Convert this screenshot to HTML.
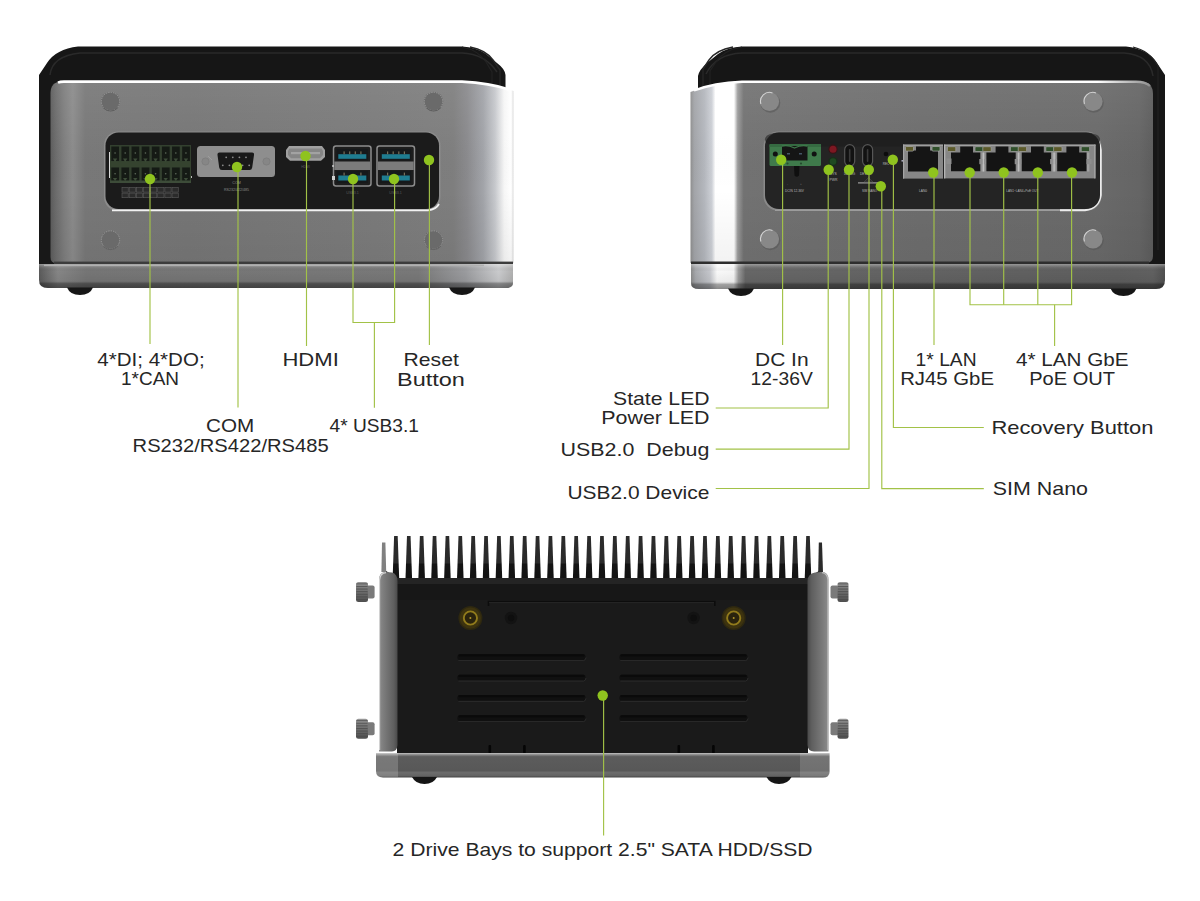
<!DOCTYPE html>
<html><head><meta charset="utf-8"><title>I/O</title>
<style>
html,body{margin:0;padding:0;background:#fff;}
body{width:1200px;height:901px;overflow:hidden;font-family:"Liberation Sans",sans-serif;}
svg{display:block;font-family:"Liberation Sans",sans-serif;}
</style></head><body>
<svg width="1200" height="901" viewBox="0 0 1200 901">
<rect width="1200" height="901" fill="#ffffff"/>

<defs>
  <linearGradient id="lbody" x1="0" y1="0" x2="1" y2="0">
    <stop offset="0" stop-color="#5c5c5c"/>
    <stop offset="0.012" stop-color="#6c6c6c"/>
    <stop offset="0.03" stop-color="#7e7e7e"/>
    <stop offset="0.048" stop-color="#8b8b8b"/>
    <stop offset="0.075" stop-color="#787878"/>
    <stop offset="0.3" stop-color="#767676"/>
    <stop offset="0.7" stop-color="#7b7b7b"/>
    <stop offset="0.87" stop-color="#7e7e7e"/>
    <stop offset="0.90" stop-color="#8a8a8d"/>
    <stop offset="0.935" stop-color="#a2a4a9"/>
    <stop offset="0.96" stop-color="#c6c8cc"/>
    <stop offset="0.98" stop-color="#f6f6f6"/>
    <stop offset="0.995" stop-color="#ffffff"/>
    <stop offset="1" stop-color="#dcdcdc"/>
  </linearGradient>
  <linearGradient id="vshade" x1="0" y1="0" x2="0" y2="1">
    <stop offset="0" stop-color="#ffffff" stop-opacity="0.07"/>
    <stop offset="0.3" stop-color="#ffffff" stop-opacity="0.02"/>
    <stop offset="0.6" stop-color="#000000" stop-opacity="0.0"/>
    <stop offset="1" stop-color="#000000" stop-opacity="0.05"/>
  </linearGradient>
  <linearGradient id="lbase" x1="0" y1="0" x2="1" y2="0">
    <stop offset="0" stop-color="#5a5a5a"/>
    <stop offset="0.04" stop-color="#858585"/>
    <stop offset="0.10" stop-color="#757575"/>
    <stop offset="0.80" stop-color="#787878"/>
    <stop offset="0.90" stop-color="#9a9b9e"/>
    <stop offset="0.97" stop-color="#c9cacc"/>
    <stop offset="1" stop-color="#b0b0b0"/>
  </linearGradient>
  <linearGradient id="rbody" x1="0" y1="0" x2="1" y2="0">
    <stop offset="0" stop-color="#8e8e8e"/>
    <stop offset="0.008" stop-color="#a2a4a8"/>
    <stop offset="0.03" stop-color="#b4b7bd"/>
    <stop offset="0.046" stop-color="#cdd0d6"/>
    <stop offset="0.054" stop-color="#ffffff"/>
    <stop offset="0.094" stop-color="#ffffff"/>
    <stop offset="0.102" stop-color="#9c9c9c"/>
    <stop offset="0.115" stop-color="#727272"/>
    <stop offset="0.5" stop-color="#6d6d6d"/>
    <stop offset="0.88" stop-color="#6a6a6a"/>
    <stop offset="0.97" stop-color="#656565"/>
    <stop offset="1" stop-color="#5c5c5c"/>
  </linearGradient>
  <linearGradient id="rbase" x1="0" y1="0" x2="1" y2="0">
    <stop offset="0" stop-color="#8a8a8a"/>
    <stop offset="0.01" stop-color="#a6a8ac"/>
    <stop offset="0.04" stop-color="#c4c6cb"/>
    <stop offset="0.055" stop-color="#f8f8f8"/>
    <stop offset="0.09" stop-color="#f4f4f4"/>
    <stop offset="0.10" stop-color="#9a9a9a"/>
    <stop offset="0.115" stop-color="#666666"/>
    <stop offset="0.9" stop-color="#5e5e5e"/>
    <stop offset="0.975" stop-color="#606060"/>
    <stop offset="1" stop-color="#505050"/>
  </linearGradient>
  <linearGradient id="baseshade" x1="0" y1="0" x2="0" y2="1">
    <stop offset="0" stop-color="#ffffff" stop-opacity="0.35"/>
    <stop offset="0.12" stop-color="#ffffff" stop-opacity="0.10"/>
    <stop offset="0.3" stop-color="#000" stop-opacity="0"/>
    <stop offset="0.72" stop-color="#000" stop-opacity="0.05"/>
    <stop offset="0.82" stop-color="#000" stop-opacity="0.35"/>
    <stop offset="1" stop-color="#000" stop-opacity="0.45"/>
  </linearGradient>
  <radialGradient id="screw" cx="0.45" cy="0.4" r="0.6">
    <stop offset="0" stop-color="#858585"/>
    <stop offset="0.8" stop-color="#7d7d7d"/>
    <stop offset="1" stop-color="#6a6a6a"/>
  </radialGradient>
  <radialGradient id="screwR" cx="0.5" cy="0.45" r="0.6">
    <stop offset="0" stop-color="#7a7a7a"/>
    <stop offset="0.8" stop-color="#767676"/>
    <stop offset="1" stop-color="#626262"/>
  </radialGradient>
  <linearGradient id="foot" x1="0" y1="0" x2="0" y2="1">
    <stop offset="0" stop-color="#3a3a3a"/>
    <stop offset="1" stop-color="#111"/>
  </linearGradient>
  <linearGradient id="brk" x1="0" y1="0" x2="1" y2="0">
    <stop offset="0" stop-color="#8c8c8c"/>
    <stop offset="0.25" stop-color="#7c7c7c"/>
    <stop offset="0.8" stop-color="#5f5f5f"/>
    <stop offset="1" stop-color="#4a4a4a"/>
  </linearGradient>
  <linearGradient id="brkR" x1="1" y1="0" x2="0" y2="0">
    <stop offset="0" stop-color="#8c8c8c"/>
    <stop offset="0.25" stop-color="#7c7c7c"/>
    <stop offset="0.8" stop-color="#5f5f5f"/>
    <stop offset="1" stop-color="#4a4a4a"/>
  </linearGradient>
  <linearGradient id="plate" x1="0" y1="0" x2="0" y2="1">
    <stop offset="0" stop-color="#c4c4c4"/>
    <stop offset="0.07" stop-color="#8a8a8a"/>
    <stop offset="0.15" stop-color="#5c5c5c"/>
    <stop offset="0.72" stop-color="#585858"/>
    <stop offset="0.80" stop-color="#6c6c6c"/>
    <stop offset="0.92" stop-color="#646464"/>
    <stop offset="1" stop-color="#444444"/>
  </linearGradient>
  <linearGradient id="fin" x1="0" y1="0" x2="0" y2="1">
    <stop offset="0" stop-color="#2b2b2b"/>
    <stop offset="0.62" stop-color="#2a2a2a"/>
    <stop offset="0.66" stop-color="#141414"/>
    <stop offset="1" stop-color="#121212"/>
  </linearGradient>
  <linearGradient id="thumb" x1="0" y1="0" x2="0" y2="1">
    <stop offset="0" stop-color="#9a9a9a"/>
    <stop offset="0.3" stop-color="#7a7a7a"/>
    <stop offset="1" stop-color="#4e4e4e"/>
  </linearGradient>
  <linearGradient id="hlfade" gradientUnits="userSpaceOnUse" x1="690" y1="0" x2="1153" y2="0">
    <stop offset="0" stop-color="#ffffff"/>
    <stop offset="0.88" stop-color="#ffffff"/>
    <stop offset="0.96" stop-color="#b0b0b0"/>
    <stop offset="1" stop-color="#8a8a8a"/>
  </linearGradient>
</defs>

<path d="M39 263 L39 75 L47 63 Q56 49 78 46.5 L462 46.5 Q476 47 486 54 L497 63 Q505 69 505.5 75 L505.5 92 L39 92 Z" fill="#161616"/>
<path d="M39 90 L56 90 L56 264.5 L39 264.5 Z" fill="#181818"/>
<path d="M50 75 Q52 56 80 53 L462 53 Q485 54 497 72" fill="none" stroke="#2a2a2a" stroke-width="1.5"/>
<path d="M470 47 Q486 50 493 60 L500 70 L500 90" fill="none" stroke="#262626" stroke-width="1.4"/>
<path d="M462 47 Q478 50 486 62 L492 72 L492 88" fill="none" stroke="#222222" stroke-width="1.2"/>
<path d="M56 263 Q50.5 263 50.5 257 L50.5 93 Q50.5 82 62 81 L462 81 Q490 82 513.5 91 L513.5 263 Z" fill="url(#lbody)"/>
<path d="M56 263 Q50.5 263 50.5 257 L50.5 93 Q50.5 82 62 81 L462 81 Q490 82 513.5 91 L513.5 263 Z" fill="url(#vshade)"/>
<path d="M58 82.6 Q60 81.6 64 81.6 L462 81.6 Q490 83 509 89.5" fill="none" stroke="#ffffff" stroke-width="2.6"/>
<rect x="54" y="261.6" width="459" height="2.6" fill="#3c3c3c"/>
<path d="M39 264 L513 264 L513 283 Q513 288 506 288 L48 288 Q39 288 39 280 Z" fill="url(#lbase)"/>
<path d="M39 264 L513 264 L513 283 Q513 288 506 288 L48 288 Q39 288 39 280 Z" fill="url(#baseshade)"/>
<rect x="44" y="264.6" width="440" height="1.5" fill="#b0b0b0"/>
<path d="M67 287.5 L93 287.5 Q90 295 80 295 Q70 295 67 287.5 Z" fill="#161616"/>
<path d="M449 287.5 L475 287.5 Q472 295 462 295 Q452 295 449 287.5 Z" fill="#161616"/>
<circle cx="110.5" cy="101.5" r="9.8" fill="#6a6a6a"/>
<circle cx="110.5" cy="101.5" r="9.2" fill="none" stroke="#a4a4a4" stroke-width="1" stroke-dasharray="1.4 1.0" opacity="0.8"/>
<path d="M103.5 107.9 A9.4 9.4 0 0 0 117.5 107.9" fill="none" stroke="#5e5e5e" stroke-width="1"/>
<circle cx="433.5" cy="101.5" r="9.8" fill="#6a6a6a"/>
<circle cx="433.5" cy="101.5" r="9.2" fill="none" stroke="#a4a4a4" stroke-width="1" stroke-dasharray="1.4 1.0" opacity="0.8"/>
<path d="M426.5 107.9 A9.4 9.4 0 0 0 440.5 107.9" fill="none" stroke="#5e5e5e" stroke-width="1"/>
<circle cx="110.5" cy="240" r="9.8" fill="#6a6a6a"/>
<circle cx="110.5" cy="240" r="9.2" fill="none" stroke="#a4a4a4" stroke-width="1" stroke-dasharray="1.4 1.0" opacity="0.8"/>
<path d="M103.5 246.4 A9.4 9.4 0 0 0 117.5 246.4" fill="none" stroke="#5e5e5e" stroke-width="1"/>
<circle cx="433.5" cy="240" r="9.8" fill="#6a6a6a"/>
<circle cx="433.5" cy="240" r="9.2" fill="none" stroke="#a4a4a4" stroke-width="1" stroke-dasharray="1.4 1.0" opacity="0.8"/>
<path d="M426.5 246.4 A9.4 9.4 0 0 0 440.5 246.4" fill="none" stroke="#5e5e5e" stroke-width="1"/>
<rect x="104" y="131.5" width="336.5" height="79.5" rx="14" fill="#8c8c8c"/>
<path d="M112 210.3 L428 210.3 Q436 209.6 439 204" fill="none" stroke="#f2f2f2" stroke-width="1.8"/>
<rect x="105.5" y="132.5" width="333.5" height="76.5" rx="13" fill="#1b1b1b"/>
<rect x="109" y="152" width="2" height="26" fill="#d8d8d8"/>
<rect x="189.5" y="176" width="2.5" height="2" fill="#bbbbbb"/>
<rect x="110" y="145" width="81" height="38" fill="#33402f"/>
<rect x="111.30" y="146.5" width="7.72" height="14.5" fill="#151a15"/>
<circle cx="115.06" cy="153.03" r="0.8" fill="#5f6b5c"/>
<rect x="121.42" y="146.5" width="7.72" height="14.5" fill="#151a15"/>
<circle cx="125.19" cy="153.03" r="0.8" fill="#5f6b5c"/>
<rect x="131.55" y="146.5" width="7.72" height="14.5" fill="#151a15"/>
<circle cx="135.31" cy="153.03" r="0.8" fill="#5f6b5c"/>
<rect x="141.68" y="146.5" width="7.72" height="14.5" fill="#151a15"/>
<circle cx="145.44" cy="153.03" r="0.8" fill="#5f6b5c"/>
<rect x="151.80" y="146.5" width="7.72" height="14.5" fill="#151a15"/>
<circle cx="155.56" cy="153.03" r="0.8" fill="#5f6b5c"/>
<rect x="161.93" y="146.5" width="7.72" height="14.5" fill="#151a15"/>
<circle cx="165.69" cy="153.03" r="0.8" fill="#5f6b5c"/>
<rect x="172.05" y="146.5" width="7.72" height="14.5" fill="#151a15"/>
<circle cx="175.81" cy="153.03" r="0.8" fill="#5f6b5c"/>
<rect x="182.18" y="146.5" width="7.72" height="14.5" fill="#151a15"/>
<circle cx="185.94" cy="153.03" r="0.8" fill="#5f6b5c"/>
<rect x="111.30" y="167.5" width="7.72" height="14" fill="#151a15"/>
<circle cx="115.06" cy="173.80" r="0.8" fill="#5f6b5c"/>
<rect x="121.42" y="167.5" width="7.72" height="14" fill="#151a15"/>
<circle cx="125.19" cy="173.80" r="0.8" fill="#5f6b5c"/>
<rect x="131.55" y="167.5" width="7.72" height="14" fill="#151a15"/>
<circle cx="135.31" cy="173.80" r="0.8" fill="#5f6b5c"/>
<rect x="141.68" y="167.5" width="7.72" height="14" fill="#151a15"/>
<circle cx="145.44" cy="173.80" r="0.8" fill="#5f6b5c"/>
<rect x="151.80" y="167.5" width="7.72" height="14" fill="#151a15"/>
<circle cx="155.56" cy="173.80" r="0.8" fill="#5f6b5c"/>
<rect x="161.93" y="167.5" width="7.72" height="14" fill="#151a15"/>
<circle cx="165.69" cy="173.80" r="0.8" fill="#5f6b5c"/>
<rect x="172.05" y="167.5" width="7.72" height="14" fill="#151a15"/>
<circle cx="175.81" cy="173.80" r="0.8" fill="#5f6b5c"/>
<rect x="182.18" y="167.5" width="7.72" height="14" fill="#151a15"/>
<circle cx="185.94" cy="173.80" r="0.8" fill="#5f6b5c"/>
<rect x="110" y="161.5" width="81" height="5.5" fill="#35432f"/>
<rect x="110" y="180.5" width="81" height="2.5" fill="#3d4c39"/>
<path d="M112.86 158.5 L117.26 158.5 L115.06 162 Z" fill="#3d4c39"/>
<path d="M112.86 178 L117.26 178 L115.06 181 Z" fill="#3d4c39"/>
<path d="M122.99 158.5 L127.39 158.5 L125.19 162 Z" fill="#3d4c39"/>
<path d="M122.99 178 L127.39 178 L125.19 181 Z" fill="#3d4c39"/>
<path d="M133.11 158.5 L137.51 158.5 L135.31 162 Z" fill="#3d4c39"/>
<path d="M133.11 178 L137.51 178 L135.31 181 Z" fill="#3d4c39"/>
<path d="M143.24 158.5 L147.64 158.5 L145.44 162 Z" fill="#3d4c39"/>
<path d="M143.24 178 L147.64 178 L145.44 181 Z" fill="#3d4c39"/>
<path d="M153.36 158.5 L157.76 158.5 L155.56 162 Z" fill="#3d4c39"/>
<path d="M153.36 178 L157.76 178 L155.56 181 Z" fill="#3d4c39"/>
<path d="M163.49 158.5 L167.89 158.5 L165.69 162 Z" fill="#3d4c39"/>
<path d="M163.49 178 L167.89 178 L165.69 181 Z" fill="#3d4c39"/>
<path d="M173.61 158.5 L178.01 158.5 L175.81 162 Z" fill="#3d4c39"/>
<path d="M173.61 178 L178.01 178 L175.81 181 Z" fill="#3d4c39"/>
<path d="M183.74 158.5 L188.14 158.5 L185.94 162 Z" fill="#3d4c39"/>
<path d="M183.74 178 L188.14 178 L185.94 181 Z" fill="#3d4c39"/>
<rect x="122.00" y="187.50" width="6.2" height="4.6" fill="#2b2b2b" stroke="#5c5c5c" stroke-width="0.6"/>
<rect x="129.15" y="187.50" width="6.2" height="4.6" fill="#2b2b2b" stroke="#5c5c5c" stroke-width="0.6"/>
<rect x="136.30" y="187.50" width="6.2" height="4.6" fill="#2b2b2b" stroke="#5c5c5c" stroke-width="0.6"/>
<rect x="143.45" y="187.50" width="6.2" height="4.6" fill="#2b2b2b" stroke="#5c5c5c" stroke-width="0.6"/>
<rect x="150.60" y="187.50" width="6.2" height="4.6" fill="#2b2b2b" stroke="#5c5c5c" stroke-width="0.6"/>
<rect x="157.75" y="187.50" width="6.2" height="4.6" fill="#2b2b2b" stroke="#5c5c5c" stroke-width="0.6"/>
<rect x="164.90" y="187.50" width="6.2" height="4.6" fill="#2b2b2b" stroke="#5c5c5c" stroke-width="0.6"/>
<rect x="172.05" y="187.50" width="6.2" height="4.6" fill="#2b2b2b" stroke="#5c5c5c" stroke-width="0.6"/>
<rect x="122.00" y="193.10" width="6.2" height="4.6" fill="#2b2b2b" stroke="#5c5c5c" stroke-width="0.6"/>
<rect x="129.15" y="193.10" width="6.2" height="4.6" fill="#2b2b2b" stroke="#5c5c5c" stroke-width="0.6"/>
<rect x="136.30" y="193.10" width="6.2" height="4.6" fill="#2b2b2b" stroke="#5c5c5c" stroke-width="0.6"/>
<rect x="143.45" y="193.10" width="6.2" height="4.6" fill="#2b2b2b" stroke="#5c5c5c" stroke-width="0.6"/>
<rect x="150.60" y="193.10" width="6.2" height="4.6" fill="#2b2b2b" stroke="#5c5c5c" stroke-width="0.6"/>
<rect x="157.75" y="193.10" width="6.2" height="4.6" fill="#2b2b2b" stroke="#5c5c5c" stroke-width="0.6"/>
<rect x="164.90" y="193.10" width="6.2" height="4.6" fill="#2b2b2b" stroke="#5c5c5c" stroke-width="0.6"/>
<rect x="172.05" y="193.10" width="6.2" height="4.6" fill="#2b2b2b" stroke="#5c5c5c" stroke-width="0.6"/>
<rect x="197" y="146" width="78" height="31" rx="3.5" fill="#8e8e8e"/>
<circle cx="205.5" cy="161.5" r="3.6" fill="#868686" stroke="#7c7c7c" stroke-width="0.8"/>
<circle cx="266.5" cy="161.5" r="3.6" fill="#868686" stroke="#7c7c7c" stroke-width="0.8"/>
<line x1="208" y1="156" x2="212" y2="160" stroke="#a2a2a2" stroke-width="0.8"/>
<path d="M219.5 152.5 L252 152.5 Q254.5 152.5 254 155 L252.2 167.5 Q251.8 170 249.5 170 L222 170 Q219.6 170 219.2 167.5 L217.5 155 Q217.2 152.5 219.5 152.5 Z" fill="#191919"/>
<circle cx="226.2" cy="157.3" r="0.9" fill="#8c8c8c"/>
<circle cx="232.8" cy="157.3" r="0.9" fill="#8c8c8c"/>
<circle cx="239.4" cy="157.3" r="0.9" fill="#8c8c8c"/>
<circle cx="246.0" cy="157.3" r="0.9" fill="#8c8c8c"/>
<circle cx="222.8" cy="165.3" r="0.9" fill="#8c8c8c"/>
<circle cx="229.4" cy="165.3" r="0.9" fill="#8c8c8c"/>
<circle cx="236.0" cy="165.3" r="0.9" fill="#8c8c8c"/>
<circle cx="242.6" cy="165.3" r="0.9" fill="#8c8c8c"/>
<circle cx="249.2" cy="165.3" r="0.9" fill="#8c8c8c"/>
<text x="236.5" y="184.2" font-size="3.6" fill="#8c8c8c" text-anchor="middle">COM</text>
<text x="236.5" y="190.5" font-size="3.6" fill="#8c8c8c" text-anchor="middle">RS232/422/485</text>
<path d="M289 146 L322 146 L325 150 L325 157 L321 160.8 L290 160.8 L286 157 L286 150 Z" fill="#a0a0a0"/>
<path d="M289.5 148.5 L321.5 148.5 L323 151 L323 155 L320 158.3 L291 158.3 L288 155 L288 151 Z" fill="#858585"/>
<rect x="291" y="152" width="29" height="2.2" fill="#a2a2a2"/>
<text x="305.5" y="167.5" font-size="3.4" fill="#5a5a5a" text-anchor="middle">HDMI</text>
<rect x="333.5" y="146" width="37.5" height="40" rx="2.5" fill="#1d1d1d" stroke="#8d8d8d" stroke-width="1.5"/>
<rect x="334.3" y="161.5" width="35.9" height="8.5" fill="#7b7b7b"/>
<rect x="336.7" y="149" width="31" height="11.5" fill="#16191b"/>
<rect x="338.3" y="154.2" width="28" height="4.6" fill="#1f7d91"/>
<rect x="343.5" y="151.4" width="1.2" height="2.8" fill="#77705a"/>
<rect x="349.1" y="151.4" width="1.2" height="2.8" fill="#77705a"/>
<rect x="354.7" y="151.4" width="1.2" height="2.8" fill="#77705a"/>
<rect x="360.3" y="151.4" width="1.2" height="2.8" fill="#77705a"/>
<rect x="336.7" y="171" width="31" height="12" fill="#16191b"/>
<rect x="338.3" y="175.5" width="28" height="5" fill="#1f7d91"/>
<rect x="343.5" y="172.6" width="1.2" height="2.9" fill="#77705a"/>
<rect x="360.3" y="172.6" width="1.2" height="2.9" fill="#77705a"/>
<rect x="377" y="146" width="37.5" height="40" rx="2.5" fill="#1d1d1d" stroke="#8d8d8d" stroke-width="1.5"/>
<rect x="377.8" y="161.5" width="35.9" height="8.5" fill="#7b7b7b"/>
<rect x="380.2" y="149" width="31" height="11.5" fill="#16191b"/>
<rect x="381.8" y="154.2" width="28" height="4.6" fill="#1f7d91"/>
<rect x="387.0" y="151.4" width="1.2" height="2.8" fill="#77705a"/>
<rect x="392.6" y="151.4" width="1.2" height="2.8" fill="#77705a"/>
<rect x="398.2" y="151.4" width="1.2" height="2.8" fill="#77705a"/>
<rect x="403.8" y="151.4" width="1.2" height="2.8" fill="#77705a"/>
<rect x="380.2" y="171" width="31" height="12" fill="#16191b"/>
<rect x="381.8" y="175.5" width="28" height="5" fill="#1f7d91"/>
<rect x="387.0" y="172.6" width="1.2" height="2.9" fill="#77705a"/>
<rect x="403.8" y="172.6" width="1.2" height="2.9" fill="#77705a"/>
<rect x="332" y="176" width="3" height="4" fill="#cfcfcf"/>
<rect x="332.3" y="165" width="1.4" height="2" fill="#cfcfcf"/>
<text x="352.5" y="193.6" font-size="3.6" fill="#5c5c5c" text-anchor="middle">USB3.1</text>
<text x="395.5" y="193.6" font-size="3.6" fill="#5c5c5c" text-anchor="middle">USB3.1</text>
<path d="M150 179 L150 344" fill="none" stroke="#a2c247" stroke-width="1.15"/>
<path d="M238 167 L238 407.5" fill="none" stroke="#a2c247" stroke-width="1.15"/>
<path d="M306.5 156 L306.5 346" fill="none" stroke="#a2c247" stroke-width="1.15"/>
<path d="M353 179 L353 322.5 L394.6 322.5 L394.6 179" fill="none" stroke="#a2c247" stroke-width="1.15"/>
<path d="M374.4 322.5 L374.4 407.7" fill="none" stroke="#a2c247" stroke-width="1.15"/>
<path d="M429.4 160 L429.4 345" fill="none" stroke="#a2c247" stroke-width="1.15"/>
<circle cx="150" cy="179" r="5.2" fill="#8fc31f"/>
<circle cx="237" cy="167" r="5.2" fill="#8fc31f"/>
<circle cx="305.5" cy="156" r="5.2" fill="#8fc31f"/>
<circle cx="353" cy="179" r="5.2" fill="#8fc31f"/>
<circle cx="394" cy="179" r="5.2" fill="#8fc31f"/>
<circle cx="429" cy="160" r="5.2" fill="#8fc31f"/>
<text x="97.3" y="366" font-size="18.6" textLength="107.3" lengthAdjust="spacingAndGlyphs" fill="#262626">4*DI; 4*DO;</text>
<text x="121" y="385.4" font-size="18.6" textLength="58" lengthAdjust="spacingAndGlyphs" fill="#262626">1*CAN</text>
<text x="206" y="432" font-size="18.6" textLength="48.19999999999999" lengthAdjust="spacingAndGlyphs" fill="#262626">COM</text>
<text x="132.6" y="451.6" font-size="18.6" textLength="196.00000000000003" lengthAdjust="spacingAndGlyphs" fill="#262626">RS232/RS422/RS485</text>
<text x="282.4" y="366" font-size="18.6" textLength="56.400000000000034" lengthAdjust="spacingAndGlyphs" fill="#262626">HDMI</text>
<text x="329.6" y="432" font-size="18.6" textLength="89.39999999999998" lengthAdjust="spacingAndGlyphs" fill="#262626">4* USB3.1</text>
<text x="403.6" y="366" font-size="18.6" textLength="55.19999999999999" lengthAdjust="spacingAndGlyphs" fill="#262626">Reset</text>
<text x="397" y="385.6" font-size="18.6" textLength="67.80000000000001" lengthAdjust="spacingAndGlyphs" fill="#262626">Button</text>
<path d="M698 100 L698 76 Q699 70 707 63 L718 54 Q728 47 742 46.5 L1126 46.5 Q1148 49 1157 63 L1165 75 L1165 263 L1150 263 L1150 100 Z" fill="#161616"/>
<path d="M706 74 Q716 54 742 53 L1124 53 Q1150 55 1153 76" fill="none" stroke="#2a2a2a" stroke-width="1.5"/>
<rect x="1140" y="250" width="25" height="14.5" fill="#161616"/>
<path d="M733 47 Q716 50 709 60 L703 69 L703 92" fill="none" stroke="#262626" stroke-width="1.4"/>
<path d="M742 47 Q724 50 716 62 L710 71 L710 90" fill="none" stroke="#222222" stroke-width="1.2"/>
<path d="M1133 47 Q1150 51 1158 66 L1158 250" fill="none" stroke="#222222" stroke-width="1.2"/>
<path d="M690.5 263 L690.5 92 Q712 83 742 81 L1140 81 Q1153 82 1153 94 L1153 256 Q1153 263 1146 263 Z" fill="url(#rbody)"/>
<path d="M690.5 263 L690.5 92 Q712 83 742 81 L1140 81 Q1153 82 1153 94 L1153 256 Q1153 263 1146 263 Z" fill="url(#vshade)"/>
<path d="M694 90.5 Q714 83 742 81.8 L1136 81.8 Q1146 82 1150 86" fill="none" stroke="url(#hlfade)" stroke-width="2.4"/>
<rect x="691" y="261.5" width="458" height="2.6" fill="#2e2e2e"/>
<path d="M691 264 L1165 264 L1165 280 Q1165 289 1156 289 L699 289 Q691 289 691 283 Z" fill="url(#rbase)"/>
<path d="M691 264 L1165 264 L1165 280 Q1165 289 1156 289 L699 289 Q691 289 691 283 Z" fill="url(#baseshade)"/>
<path d="M728 288.5 L754 288.5 Q751 296 741 296 Q731 296 728 288.5 Z" fill="#161616"/>
<path d="M1110.5 288.5 L1136.5 288.5 Q1133.5 296 1123.5 296 Q1113.5 296 1110.5 288.5 Z" fill="#161616"/>
<circle cx="770.3" cy="102.7" r="10" fill="#555" opacity="0.55"/>
<circle cx="769.5" cy="101.5" r="9.6" fill="#888888"/>
<path d="M760.9 104.0 A9 9 0 0 1 772.5 92.9" fill="none" stroke="#e0e0e0" stroke-width="1.1" opacity="0.85"/>
<circle cx="1093.8" cy="102.7" r="10" fill="#555" opacity="0.55"/>
<circle cx="1093" cy="101.5" r="9.6" fill="#888888"/>
<path d="M1084.4 104.0 A9 9 0 0 1 1096 92.9" fill="none" stroke="#e0e0e0" stroke-width="1.1" opacity="0.85"/>
<circle cx="770.3" cy="240.2" r="10" fill="#555" opacity="0.55"/>
<circle cx="769.5" cy="239" r="9.6" fill="#888888"/>
<path d="M760.9 241.5 A9 9 0 0 1 772.5 230.4" fill="none" stroke="#e0e0e0" stroke-width="1.1" opacity="0.85"/>
<circle cx="1093.8" cy="240.2" r="10" fill="#555" opacity="0.55"/>
<circle cx="1093" cy="239" r="9.6" fill="#888888"/>
<path d="M1084.4 241.5 A9 9 0 0 1 1096 230.4" fill="none" stroke="#e0e0e0" stroke-width="1.1" opacity="0.85"/>
<rect x="763.5" y="131.5" width="338" height="79.5" rx="15" fill="#8a8a8a"/>
<path d="M775 210.2 L1060 210.2" fill="none" stroke="#9c9c9c" stroke-width="1.6"/>
<path d="M1060 210.2 L1085 210.2 Q1099 208 1100.8 195 L1100.8 150 Q1100 140 1092 135" fill="none" stroke="#ececec" stroke-width="1.9"/>
<rect x="765" y="132.5" width="335" height="76.5" rx="14" fill="#242424"/>
<rect x="765" y="132.5" width="335" height="14" rx="14" fill="#1c1c1c" opacity="0.6"/>
<rect x="769.5" y="144" width="51.5" height="22" rx="1.5" fill="#3f7a4b"/>
<rect x="769.5" y="144" width="51.5" height="3" fill="#356a41"/>
<path d="M782 146 L807.5 146 L807.5 160.5 L782 160.5 Z" fill="#151515"/>
<path d="M782 146 Q788 144.5 794.5 148 Q801 144.5 807.5 146" fill="none" stroke="#3f7a4b" stroke-width="1.3"/>
<circle cx="775.3" cy="154" r="2.5" fill="#111"/>
<circle cx="814.2" cy="154" r="2.5" fill="#111"/>
<rect x="787" y="153" width="3" height="1.5" fill="#456"/>
<rect x="799" y="153" width="3" height="1.5" fill="#456"/>
<circle cx="787.5" cy="163.5" r="1.1" fill="#264d2f"/><circle cx="801" cy="163.5" r="1.1" fill="#264d2f"/>
<path d="M794 166 L799.5 166 L799 175.5 Q796.7 178 794.5 175.5 Z" fill="#0f0f0f"/>
<text x="794.5" y="191.5" font-size="3.6" fill="#b8b8b8" text-anchor="middle" textLength="19" lengthAdjust="spacingAndGlyphs">DCIN 12-36V</text>
<text x="787.5" y="184.7" font-size="3" fill="#777" text-anchor="middle">-</text><text x="801" y="184.7" font-size="3" fill="#777" text-anchor="middle">+</text>
<circle cx="833" cy="149.2" r="4.6" fill="#3a1216"/><circle cx="833" cy="149.2" r="3.5" fill="#7d1822"/>
<circle cx="833" cy="161.5" r="4.6" fill="#17301a"/><circle cx="833" cy="161.5" r="3.2" fill="#1f4a22"/>
<text x="833.5" y="175" font-size="3.4" fill="#b8b8b8" text-anchor="middle">SYS</text>
<text x="833.5" y="180.8" font-size="3.4" fill="#b8b8b8" text-anchor="middle">PWR</text>
<rect x="844.7" y="144.6" width="10" height="21.6" rx="5" fill="#121212" stroke="#565656" stroke-width="1.2"/>
<rect x="848.9000000000001" y="149" width="1.6" height="13" rx="0.8" fill="#3a3a3a"/>
<rect x="862.6" y="144.6" width="10" height="21.6" rx="5" fill="#121212" stroke="#565656" stroke-width="1.2"/>
<rect x="866.8000000000001" y="149" width="1.6" height="13" rx="0.8" fill="#3a3a3a"/>
<text x="849.7" y="175" font-size="3.2" fill="#b8b8b8" text-anchor="middle">DEBUG</text>
<text x="866" y="175" font-size="3.2" fill="#b8b8b8" text-anchor="middle">DEVICE</text>
<rect x="858" y="182" width="22" height="1.7" fill="#7a7a7a"/>
<path d="M864 182 L868.5 177.5 L873 182 Z" fill="#2c2c2c" stroke="#555" stroke-width="0.5"/>
<text x="869.5" y="191.5" font-size="3.6" fill="#b8b8b8" text-anchor="middle" textLength="15" lengthAdjust="spacingAndGlyphs">SIM NANO</text>
<circle cx="886" cy="154" r="2.3" fill="#0c0c0c"/>
<text x="886" y="165" font-size="3.2" fill="#b8b8b8" text-anchor="middle">REC</text>
<rect x="901.5" y="160" width="1.6" height="1.6" fill="#aab"/>
<rect x="903" y="144.6" width="40" height="34" fill="#878787"/>
<rect x="903" y="144.6" width="40" height="1.2" fill="#a5a5a5"/>
<rect x="903" y="144.6" width="1.2" height="34" fill="#a5a5a5"/>
<path d="M908 150.5 L916 150.5 L916 146.6 L930 146.6 L930 150.5 L938 150.5 L938 171.6 L908 171.6 Z" fill="#151515"/>
<rect x="905.5" y="146.5" width="8" height="4.6" rx="1" fill="#5c5a2a" stroke="#a9a9a9" stroke-width="0.7"/>
<rect x="932" y="146.5" width="8" height="4.6" rx="1" fill="#2f4f2a" stroke="#a9a9a9" stroke-width="0.7"/>
<text x="923" y="191.5" font-size="3.6" fill="#b8b8b8" text-anchor="middle" textLength="8" lengthAdjust="spacingAndGlyphs">LAN0</text>
<rect x="944" y="144.6" width="151.5" height="33.8" fill="#868686"/>
<rect x="944" y="144.6" width="151.5" height="1.2" fill="#a9a9a9"/>
<rect x="944" y="144.6" width="1.3" height="33.8" fill="#b5b5b5"/>
<rect x="1094" y="144.6" width="1.5" height="33.8" fill="#9f9f9f"/>
<path d="M951.0 152.6 L960.2 152.6 L960.2 146.4 L973.0 146.4 L973.0 152.6 L980.3 152.6 L980.3 171.3 L951.0 171.3 Z" fill="#141414"/>
<rect x="947.4" y="146.7" width="8.4" height="4.8" rx="1" fill="#5c5a2a" stroke="#a4a4a4" stroke-width="0.7"/>
<rect x="975.0" y="146.7" width="8.4" height="4.8" rx="1" fill="#2f4f2a" stroke="#a4a4a4" stroke-width="0.7"/>
<rect x="981.5" y="152.5" width="3.6" height="19" fill="#9a9a9a"/>
<rect x="979.3" y="159" width="8" height="5.2" fill="#8e8e8e"/>
<rect x="982.8" y="152.5" width="1" height="19" fill="#c8c8c8"/>
<path d="M986.4 152.6 L995.6 152.6 L995.6 146.4 L1008.4 146.4 L1008.4 152.6 L1015.7 152.6 L1015.7 171.3 L986.4 171.3 Z" fill="#141414"/>
<rect x="982.8" y="146.7" width="8.4" height="4.8" rx="1" fill="#5c5a2a" stroke="#a4a4a4" stroke-width="0.7"/>
<rect x="1010.4" y="146.7" width="8.4" height="4.8" rx="1" fill="#2f4f2a" stroke="#a4a4a4" stroke-width="0.7"/>
<rect x="1016.9" y="152.5" width="3.6" height="19" fill="#9a9a9a"/>
<rect x="1014.7" y="159" width="8" height="5.2" fill="#8e8e8e"/>
<rect x="1018.2" y="152.5" width="1" height="19" fill="#c8c8c8"/>
<path d="M1021.8 152.6 L1031.0 152.6 L1031.0 146.4 L1043.8 146.4 L1043.8 152.6 L1051.1 152.6 L1051.1 171.3 L1021.8 171.3 Z" fill="#141414"/>
<rect x="1018.2" y="146.7" width="8.4" height="4.8" rx="1" fill="#5c5a2a" stroke="#a4a4a4" stroke-width="0.7"/>
<rect x="1045.8" y="146.7" width="8.4" height="4.8" rx="1" fill="#2f4f2a" stroke="#a4a4a4" stroke-width="0.7"/>
<rect x="1052.3" y="152.5" width="3.6" height="19" fill="#9a9a9a"/>
<rect x="1050.1" y="159" width="8" height="5.2" fill="#8e8e8e"/>
<rect x="1053.6" y="152.5" width="1" height="19" fill="#c8c8c8"/>
<path d="M1057.2 152.6 L1066.4 152.6 L1066.4 146.4 L1079.2 146.4 L1079.2 152.6 L1086.5 152.6 L1086.5 171.3 L1057.2 171.3 Z" fill="#141414"/>
<rect x="1053.6" y="146.7" width="8.4" height="4.8" rx="1" fill="#5c5a2a" stroke="#a4a4a4" stroke-width="0.7"/>
<rect x="1081.2" y="146.7" width="8.4" height="4.8" rx="1" fill="#2f4f2a" stroke="#a4a4a4" stroke-width="0.7"/>
<rect x="1087.0" y="152.5" width="2.4" height="19" fill="#a0a0a0"/>
<rect x="1086.5" y="159" width="5" height="5.2" fill="#8e8e8e"/>
<rect x="946.5" y="158.5" width="5" height="5.5" fill="#8e8e8e"/>
<text x="1022.3" y="191.5" font-size="3.6" fill="#b8b8b8" text-anchor="middle" textLength="32" lengthAdjust="spacingAndGlyphs">LAN1~LAN4+PoE OUT</text>
<path d="M782.6 160 L782.6 345" fill="none" stroke="#a2c247" stroke-width="1.15"/>
<path d="M828.2 170 L828.2 408 L715.7 408" fill="none" stroke="#a2c247" stroke-width="1.15"/>
<path d="M849 170 L849 449.1 L715.7 449.1" fill="none" stroke="#a2c247" stroke-width="1.15"/>
<path d="M869 170 L869 488.5 L715.7 488.5" fill="none" stroke="#a2c247" stroke-width="1.15"/>
<path d="M881.8 186 L881.8 488.6 L983.8 488.6" fill="none" stroke="#a2c247" stroke-width="1.15"/>
<path d="M893.4 160 L893.4 427.5 L983.8 427.5" fill="none" stroke="#a2c247" stroke-width="1.15"/>
<path d="M934 172.5 L934 345" fill="none" stroke="#a2c247" stroke-width="1.15"/>
<path d="M970 172.5 L970 304.7 L1071.6 304.7 L1071.6 172.5" fill="none" stroke="#a2c247" stroke-width="1.15"/>
<path d="M1003.7 172.5 L1003.7 304.7" fill="none" stroke="#a2c247" stroke-width="1.15"/>
<path d="M1037.8 172.5 L1037.8 304.7" fill="none" stroke="#a2c247" stroke-width="1.15"/>
<path d="M1054.6 304.7 L1054.6 346" fill="none" stroke="#a2c247" stroke-width="1.15"/>
<circle cx="781.2" cy="159.7" r="5.2" fill="#8fc31f"/>
<circle cx="828.7" cy="169.7" r="5.2" fill="#8fc31f"/>
<circle cx="849" cy="169.7" r="5.2" fill="#8fc31f"/>
<circle cx="868.8" cy="169.7" r="5.2" fill="#8fc31f"/>
<circle cx="880.8" cy="186.3" r="5.2" fill="#8fc31f"/>
<circle cx="892.8" cy="159.7" r="5.2" fill="#8fc31f"/>
<circle cx="933.2" cy="172.5" r="5.2" fill="#8fc31f"/>
<circle cx="969.7" cy="172.5" r="5.2" fill="#8fc31f"/>
<circle cx="1003.7" cy="172.5" r="5.2" fill="#8fc31f"/>
<circle cx="1037.8" cy="172.5" r="5.2" fill="#8fc31f"/>
<circle cx="1072" cy="172.5" r="5.2" fill="#8fc31f"/>
<text x="755" y="365.8" font-size="18.6" textLength="53.60000000000002" lengthAdjust="spacingAndGlyphs" fill="#262626">DC In</text>
<text x="750.6" y="385.2" font-size="18.6" textLength="62.19999999999993" lengthAdjust="spacingAndGlyphs" fill="#262626">12-36V</text>
<text x="613" y="404.7" font-size="18.6" textLength="96.60000000000002" lengthAdjust="spacingAndGlyphs" fill="#262626">State LED</text>
<text x="601.2" y="424.1" font-size="18.6" textLength="108.39999999999998" lengthAdjust="spacingAndGlyphs" fill="#262626">Power LED</text>
<text x="560.6" y="455.5" font-size="18.6" textLength="148.79999999999995" lengthAdjust="spacingAndGlyphs" fill="#262626">USB2.0&#160; Debug</text>
<text x="567.4" y="498.7" font-size="18.6" textLength="142.0" lengthAdjust="spacingAndGlyphs" fill="#262626">USB2.0 Device</text>
<text x="915.6" y="365.8" font-size="18.6" textLength="61.0" lengthAdjust="spacingAndGlyphs" fill="#262626">1* LAN</text>
<text x="900.2" y="385.2" font-size="18.6" textLength="93.79999999999995" lengthAdjust="spacingAndGlyphs" fill="#262626">RJ45 GbE</text>
<text x="1016" y="365.8" font-size="18.6" textLength="112.59999999999991" lengthAdjust="spacingAndGlyphs" fill="#262626">4* LAN GbE</text>
<text x="1029.2" y="385.2" font-size="18.6" textLength="85.79999999999995" lengthAdjust="spacingAndGlyphs" fill="#262626">PoE OUT</text>
<text x="991.4" y="433.9" font-size="18.6" textLength="162.0000000000001" lengthAdjust="spacingAndGlyphs" fill="#262626">Recovery Button</text>
<text x="992.8" y="494.8" font-size="18.6" textLength="95.20000000000005" lengthAdjust="spacingAndGlyphs" fill="#262626">SIM Nano</text>
<path d="M382.3 542.5 L385 542.5 L385.8 573 L381.5 573 Z" fill="#6e6e6e"/>
<path d="M819.2 542.5 L821.9 542.5 L822.7 573 L818.4 573 Z" fill="#2a2a2a"/>
<path d="M397 579 L384 571 L384 565 L822 565 L822 571 L808 579 L808 753.5 L397 753.5 Z" fill="#1a1a1a"/>
<rect x="380" y="530" width="445" height="48" fill="#ffffff"/>
<path d="M384.5 570 L397.5 578 L397.5 584 L384.5 575 Z" fill="#1c1c1c"/>
<path d="M820.5 570 L807.5 578 L807.5 584 L820.5 575 Z" fill="#1c1c1c"/>
<path d="M394.10 536 L397.70 536 L399.20 579 L392.60 579 Z" fill="url(#fin)"/>
<path d="M406.98 536 L410.58 536 L412.08 579 L405.48 579 Z" fill="url(#fin)"/>
<path d="M419.86 536 L423.46 536 L424.96 579 L418.36 579 Z" fill="url(#fin)"/>
<path d="M432.73 536 L436.33 536 L437.83 579 L431.23 579 Z" fill="url(#fin)"/>
<path d="M445.61 536 L449.21 536 L450.71 579 L444.11 579 Z" fill="url(#fin)"/>
<path d="M458.49 536 L462.09 536 L463.59 579 L456.99 579 Z" fill="url(#fin)"/>
<path d="M471.37 536 L474.97 536 L476.47 579 L469.87 579 Z" fill="url(#fin)"/>
<path d="M484.25 536 L487.85 536 L489.35 579 L482.75 579 Z" fill="url(#fin)"/>
<path d="M497.12 536 L500.72 536 L502.22 579 L495.62 579 Z" fill="url(#fin)"/>
<path d="M510.00 536 L513.60 536 L515.10 579 L508.50 579 Z" fill="url(#fin)"/>
<path d="M522.88 536 L526.48 536 L527.98 579 L521.38 579 Z" fill="url(#fin)"/>
<path d="M535.76 536 L539.36 536 L540.86 579 L534.26 579 Z" fill="url(#fin)"/>
<path d="M548.64 536 L552.24 536 L553.74 579 L547.14 579 Z" fill="url(#fin)"/>
<path d="M561.52 536 L565.12 536 L566.62 579 L560.02 579 Z" fill="url(#fin)"/>
<path d="M574.39 536 L577.99 536 L579.49 579 L572.89 579 Z" fill="url(#fin)"/>
<path d="M587.27 536 L590.87 536 L592.37 579 L585.77 579 Z" fill="url(#fin)"/>
<path d="M600.15 536 L603.75 536 L605.25 579 L598.65 579 Z" fill="url(#fin)"/>
<path d="M613.03 536 L616.63 536 L618.13 579 L611.53 579 Z" fill="url(#fin)"/>
<path d="M625.91 536 L629.51 536 L631.01 579 L624.41 579 Z" fill="url(#fin)"/>
<path d="M638.78 536 L642.38 536 L643.88 579 L637.28 579 Z" fill="url(#fin)"/>
<path d="M651.66 536 L655.26 536 L656.76 579 L650.16 579 Z" fill="url(#fin)"/>
<path d="M664.54 536 L668.14 536 L669.64 579 L663.04 579 Z" fill="url(#fin)"/>
<path d="M677.42 536 L681.02 536 L682.52 579 L675.92 579 Z" fill="url(#fin)"/>
<path d="M690.30 536 L693.90 536 L695.40 579 L688.80 579 Z" fill="url(#fin)"/>
<path d="M703.18 536 L706.77 536 L708.27 579 L701.68 579 Z" fill="url(#fin)"/>
<path d="M716.05 536 L719.65 536 L721.15 579 L714.55 579 Z" fill="url(#fin)"/>
<path d="M728.93 536 L732.53 536 L734.03 579 L727.43 579 Z" fill="url(#fin)"/>
<path d="M741.81 536 L745.41 536 L746.91 579 L740.31 579 Z" fill="url(#fin)"/>
<path d="M754.69 536 L758.29 536 L759.79 579 L753.19 579 Z" fill="url(#fin)"/>
<path d="M767.57 536 L771.17 536 L772.67 579 L766.07 579 Z" fill="url(#fin)"/>
<path d="M780.44 536 L784.04 536 L785.54 579 L778.94 579 Z" fill="url(#fin)"/>
<path d="M793.32 536 L796.92 536 L798.42 579 L791.82 579 Z" fill="url(#fin)"/>
<path d="M806.20 536 L809.80 536 L811.30 579 L804.70 579 Z" fill="url(#fin)"/>
<path d="M382 542.5 L385.4 542.5 L386.2 572 L381.4 572 Z" fill="#808080"/>
<path d="M818.8 542.5 L822 542.5 L823 572 L818.2 572 Z" fill="#2a2a2a"/>
<rect x="397" y="578" width="411" height="6" fill="#242424"/>
<rect x="397" y="584" width="411" height="16" fill="#171717"/>
<path d="M488.5 606 L488.5 601.5 L714.8 601.5 L714.8 606" fill="none" stroke="#0c0c0c" stroke-width="1.6"/>
<rect x="489" y="602.3" width="225" height="0.8" fill="#2c2c2c"/>
<circle cx="470.4" cy="618" r="12" fill="#2e2810"/>
<circle cx="470.4" cy="618" r="10.6" fill="#3d330f"/>
<circle cx="470.4" cy="618" r="6.6" fill="#2a230d" stroke="#917b1c" stroke-width="1.9"/>
<circle cx="470.4" cy="618" r="1.0" fill="#b0952a"/>
<circle cx="733.7" cy="618" r="12" fill="#2e2810"/>
<circle cx="733.7" cy="618" r="10.6" fill="#3d330f"/>
<circle cx="733.7" cy="618" r="6.6" fill="#2a230d" stroke="#917b1c" stroke-width="1.9"/>
<circle cx="733.7" cy="618" r="1.0" fill="#b0952a"/>
<circle cx="511" cy="618" r="6.2" fill="#131313"/>
<circle cx="511" cy="618" r="3.2" fill="#0e0e0e"/>
<circle cx="693.6" cy="618" r="6.2" fill="#131313"/>
<circle cx="693.6" cy="618" r="3.2" fill="#0e0e0e"/>
<rect x="457.4" y="654.2" width="128.2" height="5.8" rx="2.6" fill="#101010"/>
<rect x="458.4" y="654.2" width="126.2" height="2.2" rx="1" fill="#0a0a0a"/>
<path d="M458.4 660.6 L583.6 660.6 Q585.6 660.2 586.0 657.5" stroke="#2c2c2c" stroke-width="0.9" fill="none"/>
<rect x="457.4" y="674.7" width="128.2" height="5.8" rx="2.6" fill="#101010"/>
<rect x="458.4" y="674.7" width="126.2" height="2.2" rx="1" fill="#0a0a0a"/>
<path d="M458.4 681.1 L583.6 681.1 Q585.6 680.7 586.0 678.0" stroke="#2c2c2c" stroke-width="0.9" fill="none"/>
<rect x="457.4" y="695.0" width="128.2" height="5.8" rx="2.6" fill="#101010"/>
<rect x="458.4" y="695.0" width="126.2" height="2.2" rx="1" fill="#0a0a0a"/>
<path d="M458.4 701.4 L583.6 701.4 Q585.6 701.0 586.0 698.3" stroke="#2c2c2c" stroke-width="0.9" fill="none"/>
<rect x="457.4" y="715.2" width="128.2" height="5.8" rx="2.6" fill="#101010"/>
<rect x="458.4" y="715.2" width="126.2" height="2.2" rx="1" fill="#0a0a0a"/>
<path d="M458.4 721.6 L583.6 721.6 Q585.6 721.2 586.0 718.5" stroke="#2c2c2c" stroke-width="0.9" fill="none"/>
<rect x="619.4" y="654.2" width="128.2" height="5.8" rx="2.6" fill="#101010"/>
<rect x="620.4" y="654.2" width="126.2" height="2.2" rx="1" fill="#0a0a0a"/>
<path d="M620.4 660.6 L745.6 660.6 Q747.6 660.2 748.0 657.5" stroke="#2c2c2c" stroke-width="0.9" fill="none"/>
<rect x="619.4" y="674.7" width="128.2" height="5.8" rx="2.6" fill="#101010"/>
<rect x="620.4" y="674.7" width="126.2" height="2.2" rx="1" fill="#0a0a0a"/>
<path d="M620.4 681.1 L745.6 681.1 Q747.6 680.7 748.0 678.0" stroke="#2c2c2c" stroke-width="0.9" fill="none"/>
<rect x="619.4" y="695.0" width="128.2" height="5.8" rx="2.6" fill="#101010"/>
<rect x="620.4" y="695.0" width="126.2" height="2.2" rx="1" fill="#0a0a0a"/>
<path d="M620.4 701.4 L745.6 701.4 Q747.6 701.0 748.0 698.3" stroke="#2c2c2c" stroke-width="0.9" fill="none"/>
<rect x="619.4" y="715.2" width="128.2" height="5.8" rx="2.6" fill="#101010"/>
<rect x="620.4" y="715.2" width="126.2" height="2.2" rx="1" fill="#0a0a0a"/>
<path d="M620.4 721.6 L745.6 721.6 Q747.6 721.2 748.0 718.5" stroke="#2c2c2c" stroke-width="0.9" fill="none"/>
<rect x="488.5" y="745" width="2.6" height="8.5" rx="1" fill="#050505"/>
<rect x="523.1" y="745" width="2.6" height="8.5" rx="1" fill="#050505"/>
<rect x="677.5" y="745" width="2.6" height="8.5" rx="1" fill="#050505"/>
<rect x="712.1" y="745" width="2.6" height="8.5" rx="1" fill="#050505"/>
<path d="M379 751.5 L379 580 Q379 572 386 572 L392 572.5 Q397.5 574 397.5 581 L397.5 745 Q397 751.5 392 751.5 Z" fill="url(#brk)"/>
<path d="M828.5 751.5 L828.5 580 Q828.5 572 822 572 L815 572.5 Q807.5 574 807.5 581 L807.5 745 Q808 751.5 814 751.5 Z" fill="url(#brkR)"/>
<path d="M379.6 750 L379.6 580 Q380 573 386 572.6" fill="none" stroke="#d6d6d6" stroke-width="1.1"/>
<path d="M827.9 750 L827.9 580 Q827.5 573 822 572.6" fill="none" stroke="#bdbdbd" stroke-width="1.1"/>
<rect x="366" y="585.5" width="8.6" height="13" rx="2" fill="#7a7a7a"/>
<rect x="356" y="582" width="12" height="20" rx="2.5" fill="url(#thumb)"/>
<rect x="356.4" y="583.4" width="11.2" height="0.9" fill="#4a4a4a" opacity="0.8"/>
<rect x="356.4" y="586.0" width="11.2" height="0.9" fill="#4a4a4a" opacity="0.8"/>
<rect x="356.4" y="588.6" width="11.2" height="0.9" fill="#4a4a4a" opacity="0.8"/>
<rect x="356.4" y="591.2" width="11.2" height="0.9" fill="#4a4a4a" opacity="0.8"/>
<rect x="356.4" y="593.8" width="11.2" height="0.9" fill="#4a4a4a" opacity="0.8"/>
<rect x="356.4" y="596.4" width="11.2" height="0.9" fill="#4a4a4a" opacity="0.8"/>
<rect x="356.4" y="599.0" width="11.2" height="0.9" fill="#4a4a4a" opacity="0.8"/>
<rect x="830.5" y="585.5" width="8.6" height="13" rx="2" fill="#7a7a7a"/>
<rect x="837.5" y="582" width="11" height="20" rx="2.5" fill="url(#thumb)"/>
<rect x="837.9" y="583.4" width="10.2" height="0.9" fill="#4a4a4a" opacity="0.8"/>
<rect x="837.9" y="586.0" width="10.2" height="0.9" fill="#4a4a4a" opacity="0.8"/>
<rect x="837.9" y="588.6" width="10.2" height="0.9" fill="#4a4a4a" opacity="0.8"/>
<rect x="837.9" y="591.2" width="10.2" height="0.9" fill="#4a4a4a" opacity="0.8"/>
<rect x="837.9" y="593.8" width="10.2" height="0.9" fill="#4a4a4a" opacity="0.8"/>
<rect x="837.9" y="596.4" width="10.2" height="0.9" fill="#4a4a4a" opacity="0.8"/>
<rect x="837.9" y="599.0" width="10.2" height="0.9" fill="#4a4a4a" opacity="0.8"/>
<rect x="366" y="722.3" width="8.6" height="13" rx="2" fill="#7a7a7a"/>
<rect x="356" y="718.8" width="12" height="20" rx="2.5" fill="url(#thumb)"/>
<rect x="356.4" y="720.2" width="11.2" height="0.9" fill="#4a4a4a" opacity="0.8"/>
<rect x="356.4" y="722.8" width="11.2" height="0.9" fill="#4a4a4a" opacity="0.8"/>
<rect x="356.4" y="725.4" width="11.2" height="0.9" fill="#4a4a4a" opacity="0.8"/>
<rect x="356.4" y="728.0" width="11.2" height="0.9" fill="#4a4a4a" opacity="0.8"/>
<rect x="356.4" y="730.6" width="11.2" height="0.9" fill="#4a4a4a" opacity="0.8"/>
<rect x="356.4" y="733.2" width="11.2" height="0.9" fill="#4a4a4a" opacity="0.8"/>
<rect x="356.4" y="735.8" width="11.2" height="0.9" fill="#4a4a4a" opacity="0.8"/>
<rect x="830.5" y="722.3" width="8.6" height="13" rx="2" fill="#7a7a7a"/>
<rect x="837.5" y="718.8" width="11" height="20" rx="2.5" fill="url(#thumb)"/>
<rect x="837.9" y="720.2" width="10.2" height="0.9" fill="#4a4a4a" opacity="0.8"/>
<rect x="837.9" y="722.8" width="10.2" height="0.9" fill="#4a4a4a" opacity="0.8"/>
<rect x="837.9" y="725.4" width="10.2" height="0.9" fill="#4a4a4a" opacity="0.8"/>
<rect x="837.9" y="728.0" width="10.2" height="0.9" fill="#4a4a4a" opacity="0.8"/>
<rect x="837.9" y="730.6" width="10.2" height="0.9" fill="#4a4a4a" opacity="0.8"/>
<rect x="837.9" y="733.2" width="10.2" height="0.9" fill="#4a4a4a" opacity="0.8"/>
<rect x="837.9" y="735.8" width="10.2" height="0.9" fill="#4a4a4a" opacity="0.8"/>
<path d="M376 753 L829.5 753 L829.5 772 Q829.5 777.5 823 777.5 L383 777.5 Q376 777.5 376 771 Z" fill="url(#plate)"/>
<rect x="376" y="753" width="22" height="24" fill="#ffffff" opacity="0.18"/>
<rect x="800" y="753" width="29" height="24" fill="#ffffff" opacity="0.15"/>
<path d="M412.0 777 L437.0 777 Q433.5 784 424.5 784 Q415.5 784 412.0 777 Z" fill="#151515"/>
<path d="M766.5 777 L791.5 777 Q788 784 779 784 Q770 784 766.5 777 Z" fill="#151515"/>
<path d="M603.6 695.5 L603.6 835.5" fill="none" stroke="#a2c247" stroke-width="1.15"/>
<circle cx="602.7" cy="695.5" r="5.2" fill="#8fc31f"/>
<text x="392.6" y="855.7" font-size="18.6" textLength="420.0" lengthAdjust="spacingAndGlyphs" fill="#262626">2 Drive Bays to support 2.5&quot; SATA HDD/SSD</text>
</svg>
</body></html>
